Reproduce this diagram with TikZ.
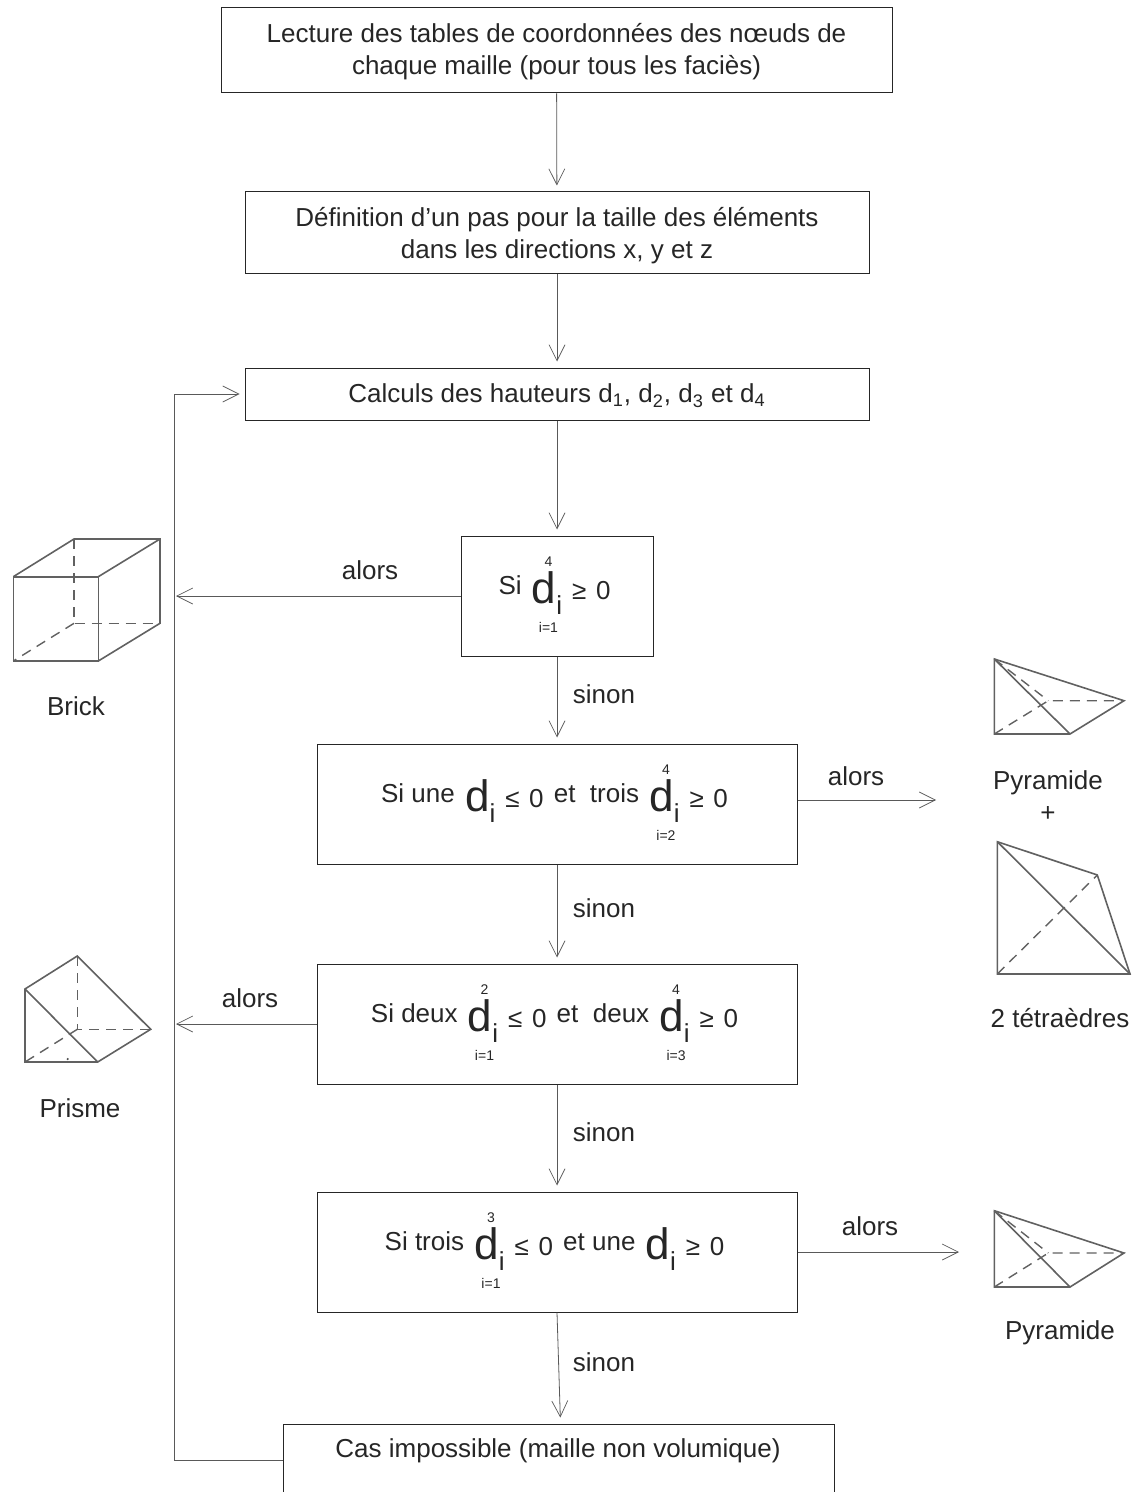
\documentclass[tikz,border=0pt]{standalone}
\usepackage{fontspec}
\setmainfont{Liberation Sans}
\usetikzlibrary{arrows.meta,positioning}

\newsavebox{\dibox}
\newcommand{\petit}{\fontsize{7}{8}\selectfont}
\newcommand{\dibase}{\kern1.5pt\smash{\raisebox{-4.5pt}{\fontsize{22}{22}\selectfont d\raisebox{-5.5pt}{\fontsize{13}{13}\selectfont i}}}\kern5pt}
% d with its bounds above and below
\newcommand{\dlim}[2]{\sbox{\dibox}{\dibase}\usebox{\dibox}\hspace{-\wd\dibox}%
  \makebox[\wd\dibox]{\smash{\raisebox{13.8pt}{\petit #1\kern2pt}}}\hspace{-\wd\dibox}%
  \makebox[\wd\dibox]{\smash{\raisebox{-19pt}{\petit #2\kern2pt}}}}
\newcommand{\relzero}[1]{\raisebox{-2.5pt}{#1\kern1.2pt~0}}

\tikzset{
  flowbox/.style={draw=black!85, text=black!85, line width=0.5pt, align=center, inner sep=0pt,
    font=\fontsize{13}{16}\selectfont},
  formulabox/.style={flowbox, text height=2pt, text depth=4pt},
  flowarrow/.style={draw=black!65, line width=0.4pt, -{Straight Barb[length=8pt,width=8pt,line width=0.35pt]}},
  linktext/.style={text=black!85, font=\fontsize{13}{16}\selectfont},
  solidedge/.style={draw=black!62, line width=0.8pt},
  hiddenedge/.style={draw=black!62, line width=0.7pt, dash pattern=on 5pt off 3.5pt},
}

\begin{document}
\begin{tikzpicture}[x=0.5pt,y=-0.5pt]
  \useasboundingbox (0,0) rectangle (1135,1492);
  % The boxes
  \node[flowbox, minimum width=335.5pt, minimum height=42.5pt] (lecture) at (556.5,50.5)
    {\rule{0pt}{10.5pt}Lecture des tables de coordonnées des nœuds de\\chaque maille (pour tous les faciès)};
  \node[flowbox, minimum width=312pt, minimum height=41pt] (pas) at (557,233)
    {\rule{0pt}{12.5pt}Définition d’un pas pour la taille des éléments\\dans les directions x, y et z};
  \node[flowbox, minimum width=312pt, minimum height=26pt] (hauteurs) at (557,394)
    {\rule{0pt}{11pt}Calculs des hauteurs d\textsubscript{1}, d\textsubscript{2}, d\textsubscript{3} et d\textsubscript{4}};
  \node[formulabox, minimum width=96pt, minimum height=60pt] (testa) at (557,596)
    {Si \dlim{4}{i=1}\relzero{≥}\hspace*{2.5pt}};
  \node[formulabox, minimum width=240pt, minimum height=60pt] (testb) at (557,804)
    {Si une \dibase\relzero{≤}~\kern1.5pt et~~trois \dlim{4}{i=2}\relzero{≥}\hspace*{2.5pt}};
  \node[formulabox, minimum width=240pt, minimum height=60pt] (testc) at (557,1024)
    {Si deux \dlim{2}{i=1}\relzero{≤}~\kern1.5pt et~~deux \dlim{4}{i=3}\relzero{≥}\hspace*{2.5pt}};
  \node[formulabox, minimum width=240pt, minimum height=60pt] (testd) at (557,1252)
    {Si trois \dlim{3}{i=1}\relzero{≤}~\kern1.5pt et une \dibase\relzero{≥}\hspace*{2.5pt}};
  \node[flowbox, minimum width=275.5pt, minimum height=36pt] (impossible) at (558.5,1460) {};
  \node[linktext] (impossibletext) at (558,1451) {Cas impossible (maille non volumique)};

  % Free ends of the arrows
  \coordinate (brickend) at (176,596);
  \coordinate (prismend) at (176,1024);
  \coordinate (pyrtetend) at (936,800);
  \coordinate (pyrend) at (959,1252);
  \coordinate (backcorner) at (174,1460);

  % Arrows
  \draw[flowarrow, shorten >=3pt] (lecture) -- (pas);
  \draw[flowarrow, shorten >=3pt] (pas) -- (hauteurs);
  \draw[flowarrow, shorten >=3pt] (hauteurs) -- (testa);
  \draw[flowarrow, shorten >=3pt] (testa) -- (testb);
  \draw[flowarrow, shorten >=3pt] (testb) -- (testc);
  \draw[flowarrow, shorten >=3pt] (testc) -- (testd);
  \draw[flowarrow, shorten >=3pt] (testd.south) -- ([xshift=1pt]impossible.north);
  \draw[flowarrow] (testa.west) -- (brickend);
  \draw[flowarrow] (testc.west) -- (prismend);
  \draw[flowarrow] (testb.east |- pyrtetend) -- (pyrtetend);
  \draw[flowarrow] (testd.east) -- (pyrend);
  \draw[flowarrow, shorten >=2.5pt] (impossible.west) -- (backcorner) |- (hauteurs.west);

  % Arrow labels
  \node[linktext] (alorsa) at (370,570) {alors};
  \node[linktext] (alorsb) at (856,776) {alors};
  \node[linktext] (alorsc) at (250,998) {alors};
  \node[linktext] (alorsd) at (870,1226) {alors};
  \node[linktext] (sinona) at (604,694) {sinon};
  \node[linktext] (sinonb) at (604,908) {sinon};
  \node[linktext] (sinonc) at (604,1132) {sinon};
  \node[linktext] (sinond) at (604,1362) {sinon};

  % Brick
  \draw[solidedge] (13.3,576.7) rectangle (98.3,661);
  \draw[solidedge] (13.3,576.7) -- (74,539) -- (160,539) -- (160,623.3) -- (98.3,661);
  \draw[solidedge] (98.3,576.7) -- (160,539);
  \draw[hiddenedge] (74,539) -- (74,623.3) -- (160,623.3);
  \draw[hiddenedge] (74,623.3) -- (13.3,661);
  \node[linktext] (bricktext) at (76,706) {Brick};

  % Prisme
  \draw[solidedge] (25,989) -- (77.3,956) -- (150.7,1029.3) -- (97.7,1062) -- (25,1062) -- cycle;
  \draw[solidedge] (25,989) -- (97.7,1062);
  \draw[hiddenedge] (77.3,956) -- (77.3,1029.3) -- (150.7,1029.3);
  \draw[hiddenedge] (77.3,1029.3) -- (25,1062);
  \fill[black!70] (67.7,1059) circle (0.6pt);
  \node[linktext] (prismetext) at (80,1108) {Prisme};

  % Pyramide + 2 tetraedres
  \draw[solidedge] (994.3,659) -- (994.3,734) -- (1070,734) -- (1124,700.7) -- cycle;
  \draw[solidedge] (994.3,659) -- (1070,734);
  \draw[hiddenedge] (994.3,734) -- (1048.3,700.7) -- (1124,700.7);
  \draw[hiddenedge] (994.3,659) -- (1048.3,700.7);
  \node[linktext] (pyramidea) at (1048,783) {Pyramide};
  \node[linktext] (plus) at (1048,814) {+};
  \draw[solidedge] (997.3,841.7) -- (997.3,974) -- (1130,974) -- (1097.3,875) -- cycle;
  \draw[solidedge] (997.3,841.7) -- (1130,974);
  \draw[hiddenedge] (997.3,974) -- (1097.3,875);
  \node[linktext] (tetratext) at (1060,1018) {2 tétraèdres};

  % Pyramide
  \draw[solidedge] (994.3,1210.7) -- (994.3,1287) -- (1070,1287) -- (1124,1253) -- cycle;
  \draw[solidedge] (994.3,1210.7) -- (1070,1287);
  \draw[hiddenedge] (994.3,1287) -- (1048.3,1253) -- (1124,1253);
  \draw[hiddenedge] (994.3,1210.7) -- (1048.3,1253);
  \node[linktext] (pyramideb) at (1060,1333) {Pyramide};
\end{tikzpicture}
\end{document}
